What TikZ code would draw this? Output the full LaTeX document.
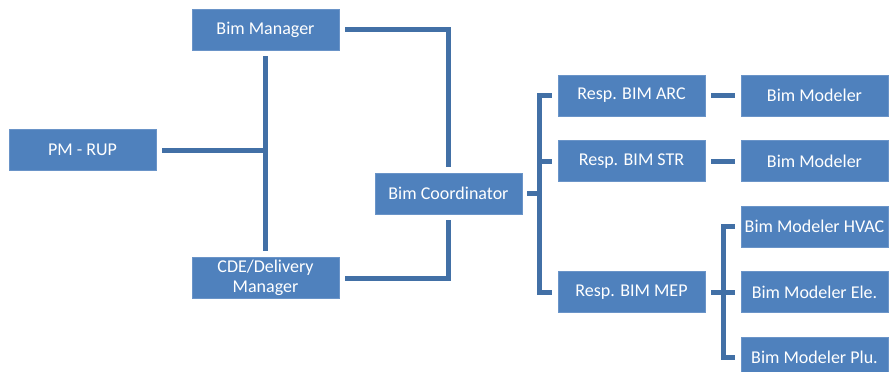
\documentclass[tikz,border=0pt]{standalone}
\usepackage{fontspec}
\setmainfont{Carlito}
\definecolor{boxblue}{HTML}{4F81BD}
\definecolor{edgeblue}{HTML}{6A94C8}
\definecolor{lineblue}{HTML}{4270A6}
\begin{document}
\begin{tikzpicture}[x=1pt,y=-1pt,
  box/.style={rectangle, fill=boxblue, draw=edgeblue, line width=0.8pt, minimum width=147pt, minimum height=41pt, inner sep=0pt, text=white, align=center, font=\fontsize{18}{20}\selectfont},
  conn/.style={draw=lineblue, line width=5pt},
  gap/.style={shorten <=6pt, shorten >=6pt}]
\useasboundingbox (0,0) rectangle (889,372);
\clip (0,0) rectangle (889,372);
\node[box] (bm) at (265.5,29.5) {Bim Manager};
\node[box] (pm) at (82.5,150) {PM - RUP};
\node[box] (cde) at (265.5,278) {CDE/Delivery\\Manager};
\node[box] (bc) at (448.5,193.5) {Bim Coordinator};
\node[box] (arc) at (631.5,95.5) {Resp. BIM ARC};
\node[box] (str) at (631.5,161) {Resp. BIM STR};
\node[box] (mep) at (631.5,292) {Resp. BIM MEP};
\node[box] (m1) at (814.5,95.5) {Bim Modeler};
\node[box] (m2) at (814.5,161) {Bim Modeler};
\node[box] (hvac) at (814.5,226.5) {Bim Modeler HVAC};
\node[box] (ele) at (814.5,292) {Bim Modeler Ele.};
\node[box] (plu) at (814.5,357.5) {Bim Modeler Plu.};
\coordinate (j) at (539,193.5);
\coordinate (k) at (723,292);
% left part
\draw[conn,gap] (bm.south) -- (cde.north);
\draw[conn,shorten <=6pt] (pm.east) -- (pm.east -| bm.south);
\draw[conn,gap] (bm.east) -| (bc.north);
\draw[conn,gap] (cde.east) -| (bc.south);
% coordinator to resp
\draw[conn,shorten <=5pt] (bc.east) -- (j);
\draw[conn,gap] (arc.west) -| (j) |- (mep.west);
\draw[conn,shorten <=6pt] (str.west) -- (str.west -| j);
% resp to modelers
\draw[conn,gap] (arc.east) -- (m1.west);
\draw[conn,gap] (str.east) -- (m2.west);
\draw[conn,gap] (mep.east) -- (ele.west);
\draw[conn,gap] (hvac.west) -| (k) |- (plu.west);
\end{tikzpicture}
\end{document}
